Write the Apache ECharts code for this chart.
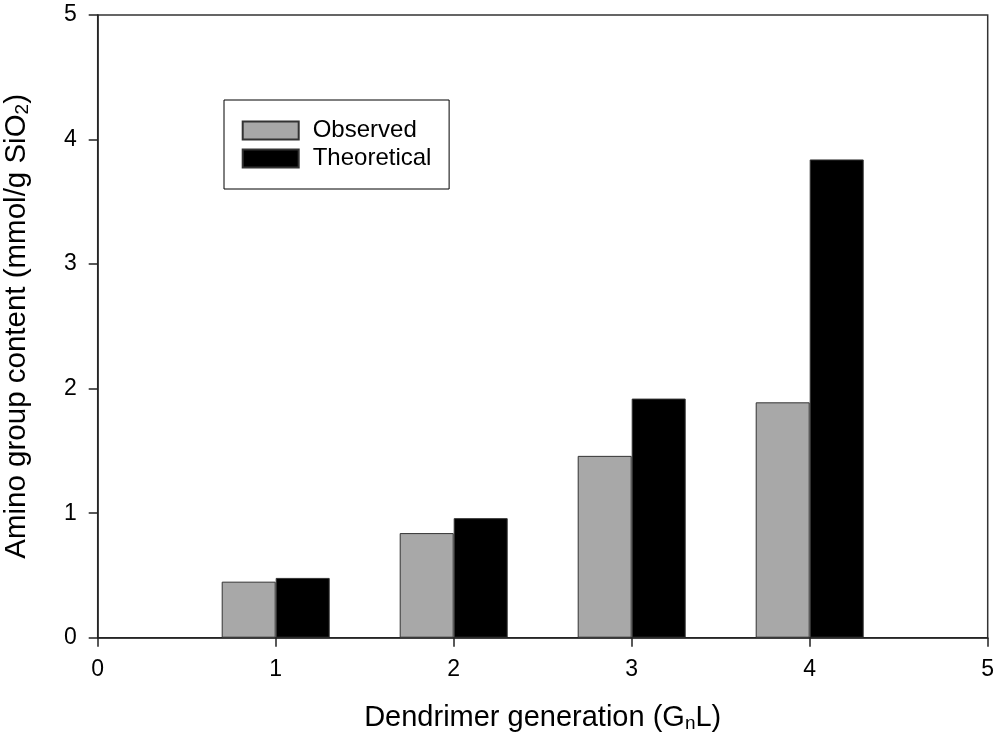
<!DOCTYPE html>
<html>
<head>
<meta charset="utf-8">
<script src="https://cdn.jsdelivr.net/npm/echarts@6/dist/echarts.min.js"></script>
<style>
html,body{margin:0;padding:0;background:#fff;}
#chart{width:1000px;height:741px;}
</style>
</head>
<body>
<div id="chart"></div>
<script>
const generations = [1, 2, 3, 4];
const observed = [0.45, 0.84, 1.46, 1.89];
const theoretical = [0.48, 0.96, 1.92, 3.84];
const xTicks = [0, 1, 2, 3, 4, 5];
const yTicks = [0, 1, 2, 3, 4, 5];
const seriesNames = ['Observed', 'Theoretical'];

const FONT = 'Liberation Sans, Arial, Helvetica, sans-serif';
const chart = echarts.init(document.getElementById('chart'));

chart.setOption({
  animation: false,
  backgroundColor: '#fff',
  textStyle: { fontFamily: FONT, color: '#000' },
  grid: {
    left: 97.7, right: 12.3, top: 15, bottom: 103.3,
    containLabel: false,
    outerBoundsMode: 'none',
    show: true, borderColor: '#333', borderWidth: 1.5, backgroundColor: 'transparent'
  },
  legend: {
    data: seriesNames,
    orient: 'vertical',
    left: 224, top: 100,
    padding: [18.5, 17.7, 18.5, 17.7],
    itemWidth: 56, itemHeight: 18, itemGap: 4,
    icon: 'rect',
    borderColor: '#000', borderWidth: 1,
    textStyle: { fontFamily: FONT, fontSize: 24, lineHeight: 24, color: '#000', padding: [0, 0, 0, 9] }
  },
  xAxis: {
    type: 'value',
    min: xTicks[0], max: xTicks[xTicks.length - 1], interval: 1,
    name: 'Dendrimer generation (G{sub|n}L)',
    nameLocation: 'middle', nameGap: 64,
    nameTextStyle: {
      fontFamily: FONT, fontSize: 29, color: '#000', lineHeight: 32,
      rich: { sub: { fontFamily: FONT, fontSize: 19, lineHeight: 6, verticalAlign: 'bottom', color: '#000' } }
    },
    axisLine: { show: true, onZero: false, lineStyle: { color: '#222', width: 1.5 } },
    axisTick: { show: true, inside: false, length: 9, lineStyle: { color: '#222', width: 1.5 } },
    axisLabel: { fontFamily: FONT, fontSize: 23, color: '#000', margin: 20 },
    splitLine: { show: false }
  },
  yAxis: {
    type: 'value',
    min: yTicks[0], max: yTicks[yTicks.length - 1], interval: 1,
    name: 'Amino group content (mmol/g SiO{sub|2})',
    nameLocation: 'middle', nameGap: 65, nameRotate: 90,
    nameTextStyle: {
      fontFamily: FONT, fontSize: 29.5, color: '#000', lineHeight: 32,
      rich: { sub: { fontFamily: FONT, fontSize: 19, lineHeight: 6, verticalAlign: 'bottom', color: '#000' } }
    },
    axisLine: { show: true, onZero: false, lineStyle: { color: '#222', width: 1.5 } },
    axisTick: { show: true, inside: false, length: 9, lineStyle: { color: '#222', width: 1.5 } },
    axisLabel: { fontFamily: FONT, fontSize: 23, color: '#000', margin: 21 },
    splitLine: { show: false }
  },
  series: [
    {
      name: seriesNames[0], type: 'bar',
      data: generations.map((g, i) => [g, observed[i]]),
      barWidth: 54, barGap: '0%',
      itemStyle: { color: '#a8a8a8', borderColor: '#333', borderWidth: 1 }
    },
    {
      name: seriesNames[1], type: 'bar',
      data: generations.map((g, i) => [g, theoretical[i]]),
      barWidth: 54, barGap: '0%',
      itemStyle: { color: '#000', borderColor: '#333', borderWidth: 1 }
    }
  ]
});
</script>
</body>
</html>
